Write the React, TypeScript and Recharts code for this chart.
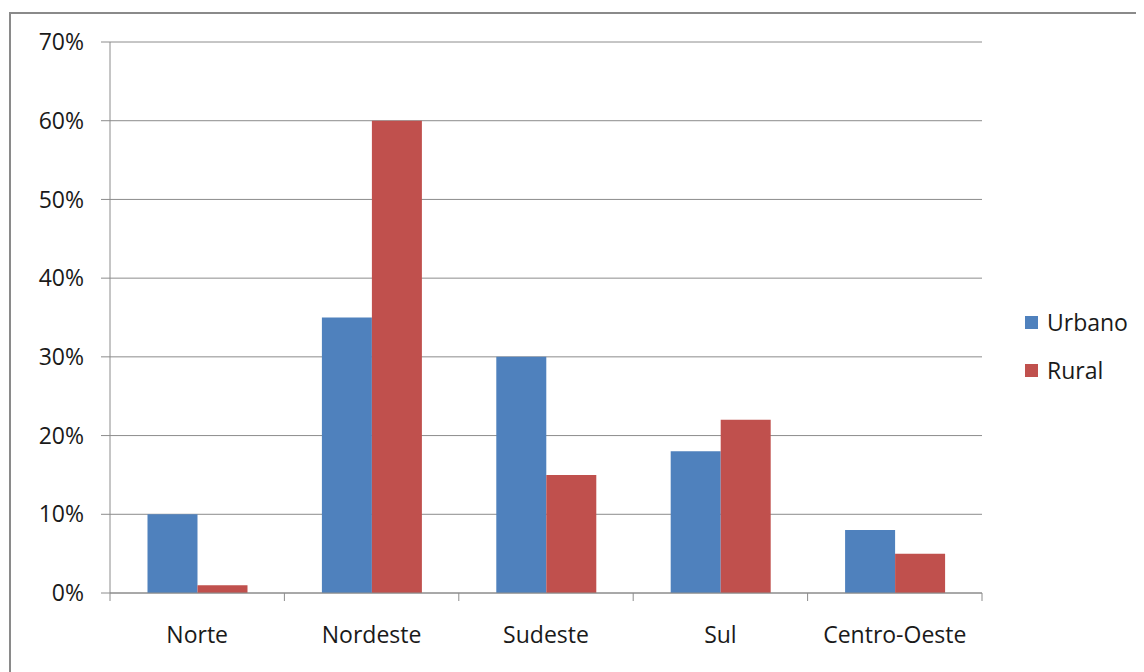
import React from "react";
import { BarChart, Bar, XAxis, YAxis, CartesianGrid, Legend } from "recharts";

const regions = ["Norte", "Nordeste", "Sudeste", "Sul", "Centro-Oeste"];
const seriesNames = ["Urbano", "Rural"];
const urbano = [0.1, 0.35, 0.3, 0.18, 0.08];
const rural = [0.01, 0.6, 0.15, 0.22, 0.05];
const yTicks = [0, 0.1, 0.2, 0.3, 0.4, 0.5, 0.6, 0.7];

const data = regions.map((region, i) => ({
  region,
  Urbano: urbano[i],
  Rural: rural[i],
}));

const AXIS_GRAY = "#8c8c8c";
const TEXT = "#1a1a1a";
const FONT_SIZE = 23;

function CategoryTick(props: any) {
  const { x, y, payload, index, visibleTicksCount } = props;
  const half = payload?.offset ?? 87.2;
  const isLast = index === (visibleTicksCount ?? regions.length) - 1;
  return (
    <g>
      <line x1={x - half} y1={y} x2={x - half} y2={y + 8} stroke={AXIS_GRAY} />
      {isLast && (
        <line x1={x + half} y1={y} x2={x + half} y2={y + 8} stroke={AXIS_GRAY} />
      )}
      <text x={x} y={y + 42} dy="0.35em" textAnchor="middle" fill={TEXT} fontSize={FONT_SIZE}>
        {payload.value}
      </text>
    </g>
  );
}

function LegendContent(props: any) {
  const items = [...(props.payload || [])].sort(
    (a: any, b: any) => seriesNames.indexOf(a.value) - seriesNames.indexOf(b.value)
  );
  return (
    <div>
      {items.map((item: any) => (
        <div key={item.value} style={{ display: "flex", alignItems: "center", height: 48 }}>
          <span style={{ width: 13, height: 13, background: item.color, display: "inline-block" }} />
          <span style={{ marginLeft: 9, fontSize: FONT_SIZE, color: TEXT, lineHeight: "24px" }}>
            {item.value}
          </span>
        </div>
      ))}
    </div>
  );
}

export default function App() {
  return (
    <div
      style={{
        position: "relative",
        width: 1136,
        height: 664,
        overflow: "hidden",
        fontFamily: "'Open Sans', sans-serif",
        background: "#fff",
      }}
    >
      <div
        style={{
          position: "absolute",
          left: 1,
          top: 4,
          width: 1300,
          height: 800,
          border: "2px solid #8a8a8a",
        }}
      />
      <div style={{ position: "absolute", left: 0, top: 0 }}>
        <BarChart
          width={1136}
          height={664}
          data={data}
          margin={{ top: 34, right: 162, left: 0, bottom: 0 }}
          barCategoryGap="21.5%"
          barGap={0}
        >
          <CartesianGrid vertical={false} stroke={AXIS_GRAY} />
          <XAxis
            dataKey="region"
            height={79}
            axisLine={{ stroke: AXIS_GRAY }}
            tickLine={false}
            tickSize={0}
            tickMargin={0}
            interval={0}
            tick={<CategoryTick />}
          />
          <YAxis
            width={102}
            domain={[0, 0.7]}
            ticks={yTicks}
            interval={0}
            axisLine={{ stroke: AXIS_GRAY }}
            tickLine={{ stroke: AXIS_GRAY }}
            tickSize={9}
            tickMargin={17}
            tick={{ fill: TEXT, fontSize: FONT_SIZE }}
            tickFormatter={(v: number) => `${Math.round(v * 100)}%`}
          />
          <Legend
            layout="horizontal"
            align="center"
            verticalAlign="middle"
            content={<LegendContent />}
            wrapperStyle={{ left: 1017, top: 290, width: 120, height: 96 }}
          />
          <Bar dataKey="Urbano" fill="#4F81BD" isAnimationActive={false} />
          <Bar dataKey="Rural" fill="#C0504D" isAnimationActive={false} />
        </BarChart>
      </div>
    </div>
  );
}
